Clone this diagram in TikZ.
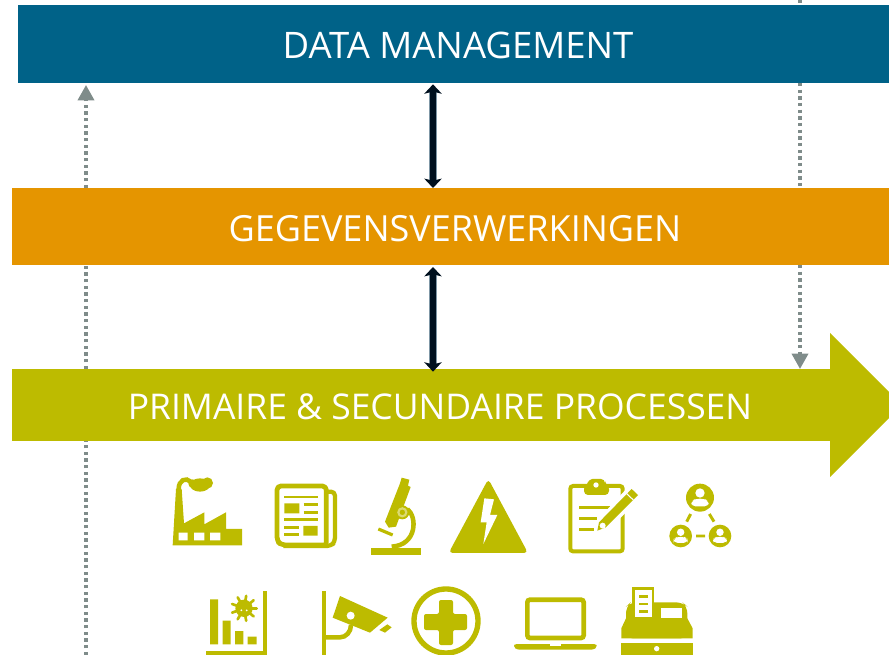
\documentclass[tikz,border=0pt]{standalone}
\usepackage{fontspec}
\setmainfont{Open Sans}
\usetikzlibrary{arrows.meta}
\definecolor{dmblue}{HTML}{006288}
\definecolor{gvorange}{HTML}{E59500}
\definecolor{olive}{HTML}{BDBB00}
\definecolor{dotgray}{HTML}{7F8C8A}
\definecolor{navy}{HTML}{00101E}
\definecolor{halo}{HTML}{7F97A6}
\tikzset{
  bar/.style={inner sep=0pt,outer sep=0pt,draw=none},
  bartext/.style={text=white,inner sep=0pt},
  dotplain/.style={draw=dotgray,line width=2.6pt,dash pattern=on 2.4pt off 2.6pt},
  dotline/.style={dotplain,-{Triangle[width=12pt,length=11.5pt,fill=dotgray]}},
  linkhalo/.style={draw=halo,line width=5.6pt,shorten >=6pt,shorten <=6pt},
  linkcore/.style={draw=navy,line width=4.2pt,{Stealth[width=13pt,length=7pt,inset=1.5pt,fill=navy]}-{Stealth[width=13pt,length=7pt,inset=1.5pt,fill=navy]}},
  ol/.style={fill=olive,draw=none},
  olline/.style={draw=olive,fill=none},
  wh/.style={fill=white,draw=none},
  izoomA/.style={shift={(150,465)},x=.25pt,y=-.25pt},
  izoomB/.style={shift={(440,465)},x=.25pt,y=-.25pt}
}
\begin{document}
\begin{tikzpicture}[x=.75pt,y=-.75pt]
\useasboundingbox (0,0) rectangle (889,655);
\clip (0,0) rectangle (889,655);
% dotted connector anchors
\coordinate (lx) at (86,0);
\coordinate (rx) at (800,0);
\coordinate (mx) at (433,0);
\coordinate (lbot) at (86,655);
\coordinate (rtop) at (800,0);
% bars
\node[bar,fill=dmblue,minimum width=653.25pt,minimum height=58.5pt] (dm) at (453.5,44) {};
\node[bar,fill=gvorange,minimum width=657.75pt,minimum height=57.75pt] (gv) at (450.5,226.5) {};
\node[bar,fill=olive,minimum width=613.5pt,minimum height=54pt] (pp) at (421,405) {};
\fill[olive] (pp.north east) -- (830,333) -- (902,405) -- (830,477) -- (pp.south east) -- cycle;
\node[bartext,font=\fontsize{27.4}{32}\selectfont] (dmt) at (458,45) {DATA MANAGEMENT};
\node[bartext,font=\fontsize{27}{32}\selectfont] (gvt) at (455,229) {GEGEVENSVERWERKINGEN};
\node[bartext,font=\fontsize{26.6}{32}\selectfont] (ppt) at (440,407) {PRIMAIRE \& SECUNDAIRE PROCESSEN};
% dotted connectors
\draw[dotplain] (lbot) -- (lx |- pp.south);
\draw[dotplain] (lx |- pp.north) -- (lx |- gv.south);
\draw[dotline] (lx |- gv.north) -- ([yshift=-1.5pt]lx |- dm.south);
\draw[dotplain] (rtop) -- (rx |- dm.north);
\draw[dotplain] (rx |- dm.south) -- (rx |- gv.north);
\draw[dotline] (rx |- gv.south) -- (rx |- pp.north);
% double arrows
\draw[linkhalo] (mx |- dm.south) -- (mx |- gv.north);
\draw[linkcore] ([yshift=-1pt]mx |- dm.south) -- (mx |- gv.north);
\draw[linkhalo] ([yshift=-1.5pt]mx |- gv.south) -- ([yshift=-2pt]mx |- pp.north);
\draw[linkcore] ([yshift=-1.5pt]mx |- gv.south) -- ([yshift=-2pt]mx |- pp.north);
\begin{scope}[izoomA]
% factory
\fill[ol] (68,241) -- (78,72) -- (95,72) -- (102,175) -- (163,142) -- (163,178) -- (228,142) -- (228,192) -- (276,192) -- (276,241) -- cycle;
\draw[olline,line width=3.4pt,line cap=round] (86,72) .. controls (86,45) and (108,36) .. (122,50);
\fill[ol] (150,60) ellipse (30 and 20);
\fill[ol] (172,54) circle (17);
\fill[ol] (128,56) circle (13);
\fill[wh] (86,203) rectangle (113,226) (132,203) rectangle (163,226) (180,203) rectangle (211,226);
% newspaper
\draw[olline,line width=3.6pt,line join=round,rounded corners=3pt] (534,240) -- (394,240) -- (381,228) -- (381,63) -- (529,63) -- (529,235);
\draw[olline,line width=3.2pt,line join=round,rounded corners=3pt] (530,80) -- (555,80) -- (555,230) -- (543,243) -- (400,243);
\draw[olline,line width=2.1pt] (403,96) -- (503,96) (461,118) -- (503,118) (461,142) -- (503,142) (403,164) -- (503,164) (403,187) -- (448,187) (403,209) -- (448,209);
\fill[ol] (403,115) rectangle (448,145) (460,183) rectangle (503,212);
% microscope
\fill[ol] (663,250) rectangle (812,269);
\fill[ol] (755,38) -- (778,44) -- (774,62) -- (782,66) -- (738,185) -- (716,188) -- (705,170) -- (750,55) -- cycle;
\draw[olline,line width=3.4pt] (772,132) .. controls (802,155) and (802,240) .. (725,245);
\fill[ol] (757,142) circle (21);
\draw[draw=white!45!olive,line width=1.6pt] (757,142) circle (12);
\draw[olline,line width=2.4pt] (685,192) -- (728,210);
% chart
\draw[olline,line width=3.6pt] (345,378) -- (345,565) -- (167,565);
\fill[ol] (180,403) rectangle (204,538) (218,467) rectangle (242,538) (255,498) rectangle (280,538) (293,515) rectangle (320,538);
\fill[ol] (282,430) circle (26);
\foreach \a in {0,40,...,320}{\draw[olline,line width=2pt,line cap=round] (282,430) -- ++(\a:38);}
\fill[wh] (274,436) circle (3) (290,436) circle (3);
% camera
\draw[olline,line width=3.6pt] (522,378) -- (522,570);
\draw[olline,line width=3.4pt] (522,517) -- (570,517) arc (90:0:33 and 37);
\fill[ol] (570,393) -- (713,458) -- (660,503) -- (548,458) -- cycle;
\fill[wh] (602,452) circle (12);
\fill[ol] (688,495) -- (712,478) -- (725,487) -- (705,503) -- cycle;
\end{scope}
% medical
\draw[olline,line width=4pt] (446,621) circle (32);
\fill[ol,rounded corners=1.5pt] (439,600) -- (453,600) -- (453,614) -- (467,614) -- (467,630) -- (453,630) -- (453,645) -- (439,645) -- (439,630) -- (424,630) -- (424,614) -- (439,614) -- cycle;
\begin{scope}[izoomB]
% warning
\fill[ol,rounded corners=3pt] (145,42) -- (264,264) -- (26,264) -- cycle;
\fill[wh] (133,100) -- (162,103) -- (150,150) -- (172,150) -- (130,237) -- (140,172) -- (122,172) -- cycle;
% clipboard
\draw[olline,line width=3pt,rounded corners=2pt] (391,63) rectangle (548,259);
\fill[ol,rounded corners=3pt] (445,42) -- (495,42) -- (495,60) -- (507,60) -- (507,90) -- (432,90) -- (432,60) -- (445,60) -- cycle;
\fill[wh] (468,60) circle (8);
\draw[olline,line width=2pt] (418,127) -- (510,127) (418,160) -- (472,160) (418,193) -- (462,193);
\fill[wh] (465,205) -- (468,170) -- (570,60) -- (606,92) -- (500,202) -- cycle;
\fill[ol] (472,197) -- (477,172) -- (575,72) -- (594,90) -- (497,187) -- cycle;
\fill[wh] (488,182) circle (9);
\draw[draw=white,line width=.8pt] (560,86) -- (580,105);
% people
\fill[ol] (780,98) circle (42) (722,213) circle (34) (840,213) circle (34);
\foreach \cx/\cy/\s in {780/98/1,722/213/.8,840/213/.8}{
  \fill[wh] (\cx,\cy-14*\s) circle (14*\s);
  \fill[wh,rounded corners=3pt] (\cx-26*\s,\cy+26*\s) -- (\cx-26*\s,\cy+10*\s) -- (\cx-12*\s,\cy+3*\s) -- (\cx+12*\s,\cy+3*\s) -- (\cx+26*\s,\cy+10*\s) -- (\cx+26*\s,\cy+26*\s) -- cycle;
}
\draw[olline,line width=2.2pt] (752,147) -- (740,170) (808,147) -- (822,170) (768,213) -- (795,213);
% laptop
\draw[olline,line width=3.5pt,rounded corners=2pt] (262,404) rectangle (431,519);
\fill[ol,rounded corners=2pt] (222,537) -- (470,537) -- (470,546) -- (462,554) -- (230,554) -- (222,546) -- cycle;
\fill[wh] (330,537) rectangle (362,543);
% register
\fill[ol,rounded corners=5pt] (558,520) -- (558,425) -- (572,412) -- (728,412) -- (742,425) -- (742,520) -- cycle;
\fill[ol] (558,460) -- (544,490) -- (544,520) -- (758,520) -- (758,490) -- (742,460) -- cycle;
\fill[ol] (544,533) rectangle (758,580);
\fill[wh] (650,551) circle (8);
\fill[wh] (662,428) rectangle (727,458);
\fill[ol] (577,367) rectangle (643,460);
\fill[wh] (585,375) rectangle (635,456);
\draw[olline,line width=2.2pt] (597,395) -- (623,395) (597,417) -- (623,417) (597,440) -- (623,440);
\end{scope}
\end{tikzpicture}
\end{document}
